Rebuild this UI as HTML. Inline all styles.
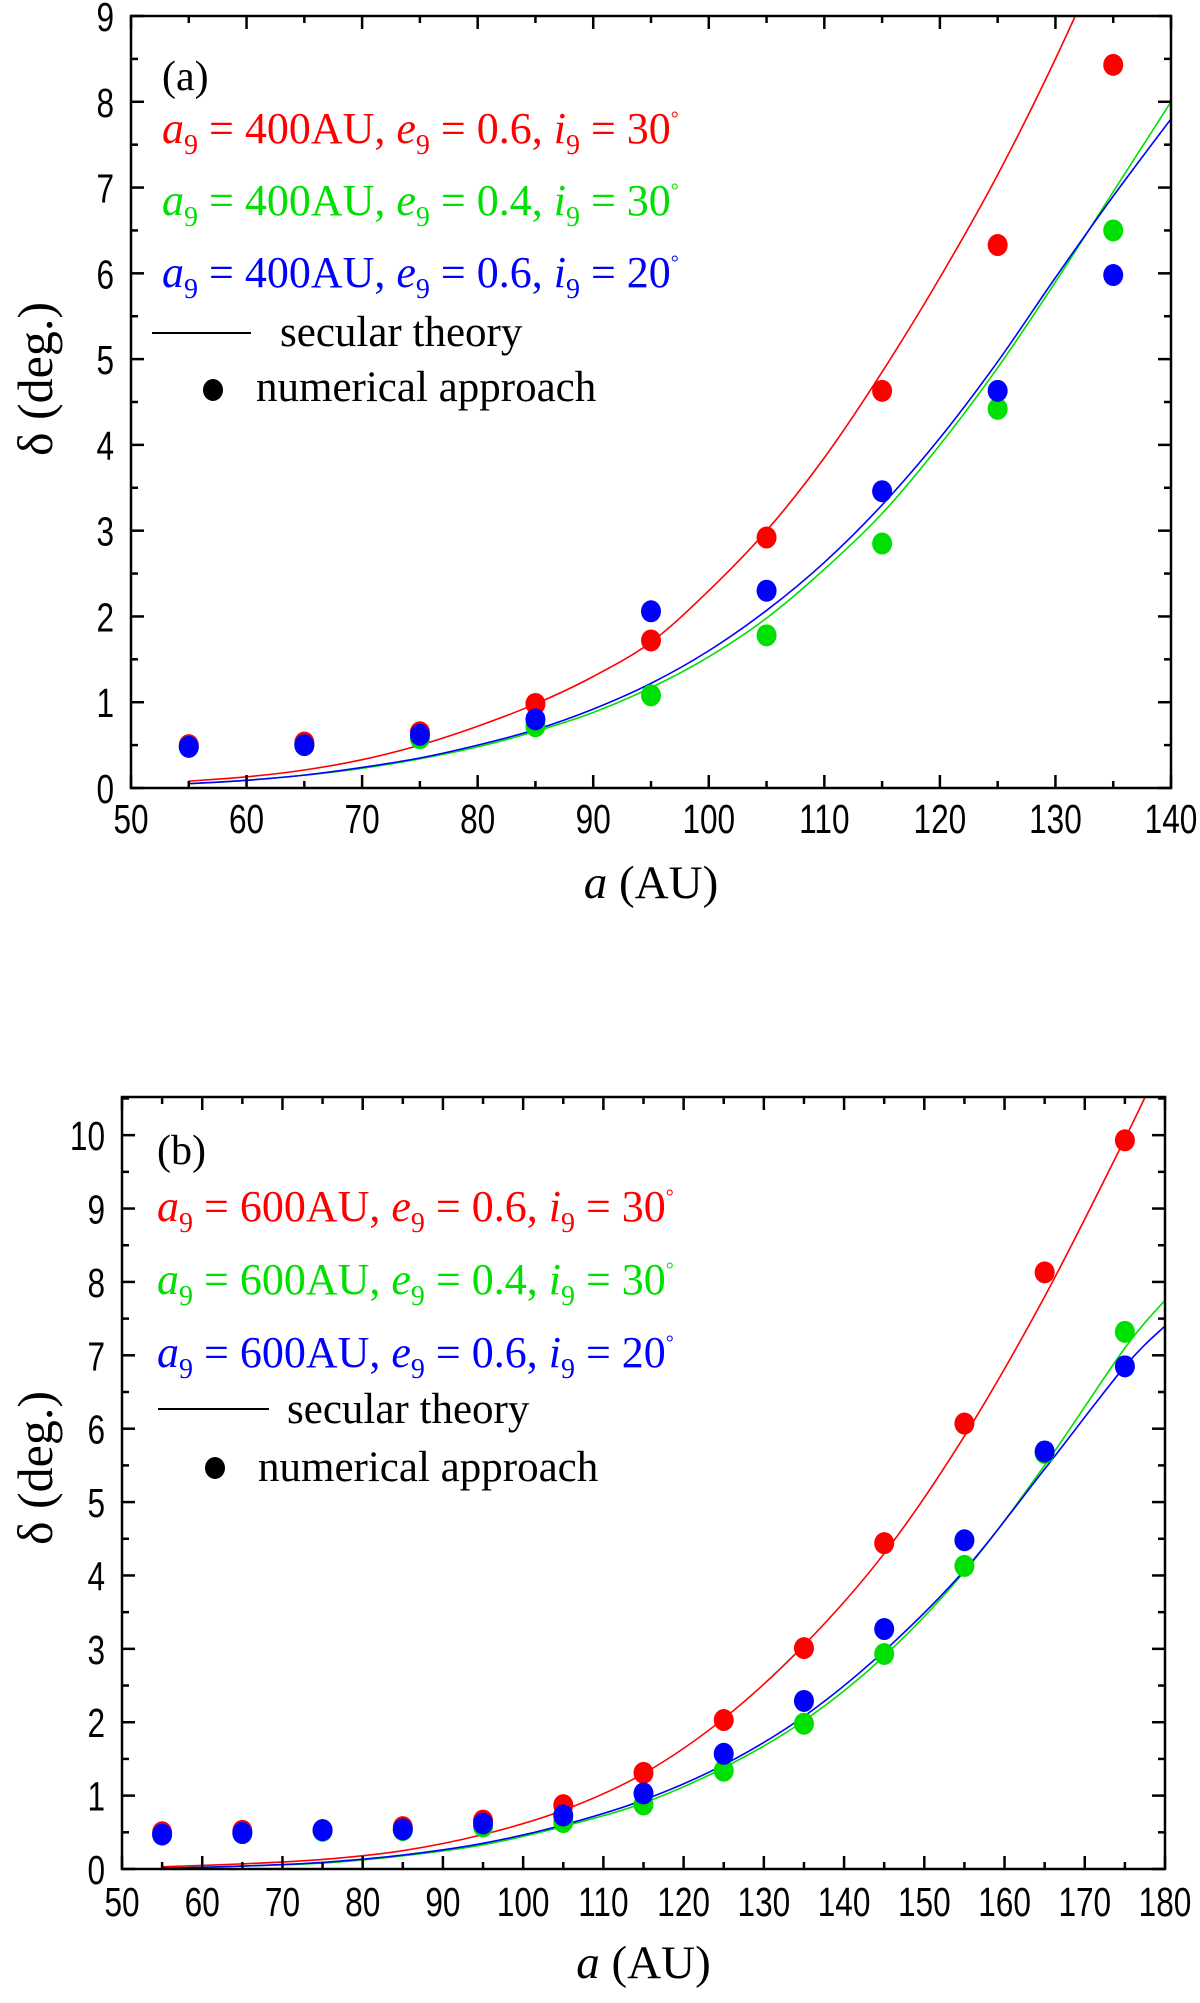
<!DOCTYPE html>
<html><head><meta charset="utf-8"><style>
html,body{margin:0;padding:0;background:#fff;}
svg{display:block;}
text{font-family:"Liberation Sans",Arial,sans-serif;}
.ser{font-family:"Liberation Serif","Times New Roman",serif;}
</style></head><body>
<svg id="fig" width="1200" height="2003" viewBox="0 0 1200 2003" xmlns="http://www.w3.org/2000/svg"></svg>
<script>
// ---------- Panel (a) data ----------
const aX = [55,65,75,85,95,105,115,125,135];
const aRed = [0.50,0.53,0.65,0.98,1.72,2.92,4.63,6.33,8.43];
const aGreen = [0.48,0.50,0.58,0.72,1.08,1.78,2.85,4.42,6.50];
const aBlue = [0.48,0.50,0.62,0.80,2.06,2.30,3.46,4.63,5.98];
const aThX = [55,60,65,70,75,80,85,90,95,100,105,110,115,120,125,130,135,140];
const aThRed = [0.08,0.13,0.21,0.33,0.50,0.72,0.98,1.30,1.70,2.30,3.00,3.85,4.85,5.95,7.15,8.50,10.0,11.6];
const aThGreen = [0.05,0.09,0.15,0.23,0.34,0.48,0.66,0.88,1.17,1.53,1.98,2.55,3.20,4.00,4.90,5.90,6.95,8.00];
const aThBlue = [0.05,0.09,0.15,0.24,0.35,0.50,0.68,0.92,1.22,1.60,2.07,2.63,3.30,4.08,4.97,5.95,6.90,7.80];
const aXTicks = [50,60,70,80,90,100,110,120,130,140];
const aYTicks = [0,1,2,3,4,5,6,7,8,9];
// ---------- Panel (b) data ----------
const bX = [55,65,75,85,95,105,115,125,135,145,155,165,175];
const bRed = [0.50,0.52,0.53,0.57,0.66,0.87,1.31,2.03,3.01,4.44,6.07,8.13,9.93];
const bGreen = [0.47,0.49,0.52,0.53,0.58,0.64,0.88,1.34,1.98,2.93,4.13,5.67,7.32];
const bBlue = [0.47,0.49,0.53,0.54,0.62,0.73,1.03,1.57,2.29,3.27,4.48,5.69,6.85];
const bThX = [55,65,75,85,95,105,115,125,135,145,155,165,175,180];
const bThRed = [0.03,0.07,0.13,0.25,0.47,0.80,1.30,2.05,3.05,4.30,5.90,7.80,9.95,11.1];
const bThGreen = [0.01,0.04,0.08,0.18,0.33,0.58,0.90,1.38,2.02,2.90,4.05,5.50,7.10,7.75];
const bThBlue = [0.01,0.04,0.09,0.19,0.35,0.60,0.94,1.42,2.08,2.97,4.07,5.45,6.85,7.40];
const bXTicks = [50,60,70,80,90,100,110,120,130,140,150,160,170,180];
const bYTicks = [0,1,2,3,4,5,6,7,8,9,10];

const NS="http://www.w3.org/2000/svg";
const svg=document.getElementById('fig');
function mk(tag,attrs,parent){const e=document.createElementNS(NS,tag);for(const k in attrs)e.setAttribute(k,attrs[k]);(parent||svg).appendChild(e);return e;}

function panel(cfg){
  const g=mk('g',{});
  
  
  const {L,R,T,B,x0,x1,y0,y1}=cfg;
  const sx=v=>L+(v-x0)/(x1-x0)*(R-L);
  const sy=v=>B-(v-y0)/(y1-y0)*(B-T);
  const cid='clip'+cfg.id;
  const cp=mk('clipPath',{id:cid},g);mk('rect',{x:L,y:T,width:R-L,height:B-T},cp);
  const cols={red:'#ff0000',green:'#00e000',blue:'#0000ff'};
  cfg.theory.forEach(s=>{
    const pts=cfg.thX.map((x,i)=>[sx(x),sy(s.v[i])]);
    let d='M'+pts[0][0]+','+pts[0][1];
    for(let i=0;i<pts.length-1;i++){
      const p0=pts[Math.max(i-1,0)],p1=pts[i],p2=pts[i+1],p3=pts[Math.min(i+2,pts.length-1)];
      d+=' C'+(p1[0]+(p2[0]-p0[0])/6)+','+(p1[1]+(p2[1]-p0[1])/6)+' '+(p2[0]-(p3[0]-p1[0])/6)+','+(p2[1]-(p3[1]-p1[1])/6)+' '+p2[0]+','+p2[1];
    }
    const p=mk('path',{d:d,fill:'none',stroke:cols[s.c],'stroke-width':1.6,'clip-path':'url(#'+cid+')'},g);
    
    
  });
  cfg.pts.forEach(s=>{
    s.v.forEach((v,i)=>{
      const c=mk('ellipse',{cx:sx(cfg.px[i]),cy:sy(v),rx:10,ry:11,fill:cols[s.c]},g);
      
      
    });
  });
  const fr=mk('rect',{x:L,y:T,width:R-L,height:B-T,fill:'none',stroke:'#000','stroke-width':2.5},g);
  
  
  const xs=cfg.xt;
  for(let i=0;i<xs.length;i++){
    const X=sx(xs[i]);
    mk('line',{x1:X,y1:B,x2:X,y2:B-13,stroke:'#000','stroke-width':2.5},g);
    mk('line',{x1:X,y1:T,x2:X,y2:T+13,stroke:'#000','stroke-width':2.5},g);
    if(i<xs.length-1){const Xm=sx((xs[i]+xs[i+1])/2);
      mk('line',{x1:Xm,y1:B,x2:Xm,y2:B-7,stroke:'#000','stroke-width':2.5},g);
      mk('line',{x1:Xm,y1:T,x2:Xm,y2:T+7,stroke:'#000','stroke-width':2.5},g);}
    const t=mk('text',{x:0,y:0,'font-size':41,'text-anchor':'middle',transform:'translate('+X+','+cfg.xlY+') scale(0.77,1)'},g);
    t.textContent=xs[i];
    
    
  }
  const ys=cfg.yt;
  for(let i=0;i<ys.length;i++){
    const Y=sy(ys[i]);
    mk('line',{x1:L,y1:Y,x2:L+13,y2:Y,stroke:'#000','stroke-width':2.5},g);
    mk('line',{x1:R,y1:Y,x2:R-13,y2:Y,stroke:'#000','stroke-width':2.5},g);
    const ym=ys[i]+0.5; if(ym<y1){const Ym=sy(ym);
      mk('line',{x1:L,y1:Ym,x2:L+7,y2:Ym,stroke:'#000','stroke-width':2.5},g);
      mk('line',{x1:R,y1:Ym,x2:R-7,y2:Ym,stroke:'#000','stroke-width':2.5},g);}
    const t=mk('text',{x:0,y:0,'font-size':41,'text-anchor':'end',transform:'translate('+(L-17)+','+(Y+15)+') scale(0.77,1)'},g);
    t.textContent=ys[i];
    
    
  }
  const xt=mk('text',{x:(L+R)/2,y:cfg.xtY,'font-size':47,'text-anchor':'middle',class:'ser'},g);
  xt.innerHTML='<tspan font-style="italic">a</tspan> (AU)';
  
  
  const yt=mk('text',{x:0,y:0,'font-size':50,'text-anchor':'middle',class:'ser',transform:'translate('+cfg.ytX+','+cfg.ytY+') rotate(-90)'},g);
  yt.textContent='δ (deg.)';
  
  
  const lg=cfg.lg;
  const lab=mk('text',{x:lg.labX,y:lg.labY,'font-size':42,class:'ser'},g);
  lab.textContent=cfg.id==='a'?'(a)':'(b)';
  
  
  const entries=[['red','0.6','30'],['green','0.4','30'],['blue','0.6','20']];
  entries.forEach((e,i)=>{
    const t=mk('text',{x:lg.labX,y:lg.rows[i],'font-size':44,class:'ser',fill:cols[e[0]]},g);
    t.innerHTML='<tspan font-style="italic">a</tspan><tspan font-size="28" dy="11">9</tspan><tspan dy="-11"> = '+cfg.a9+'AU, </tspan><tspan font-style="italic">e</tspan><tspan font-size="28" dy="11">9</tspan><tspan dy="-11"> = '+e[1]+', </tspan><tspan font-style="italic">i</tspan><tspan font-size="28" dy="11">9</tspan><tspan dy="-11"> = '+e[2]+'</tspan><tspan font-size="20" dy="-18">°</tspan>';
    
    
  });
  mk('line',{x1:lg.lx1,y1:lg.lineY,x2:lg.lx2,y2:lg.lineY,stroke:'#000','stroke-width':2},g);
  const st=mk('text',{x:lg.stX,y:lg.stY,'font-size':43,class:'ser'},g);
  st.textContent='secular theory';
  
  
  mk('ellipse',{cx:lg.dX,cy:lg.dY,rx:10,ry:11,fill:'#000'},g);
  const nt=mk('text',{x:lg.nX,y:lg.nY,'font-size':43,class:'ser'},g);
  nt.textContent='numerical approach';
  
  
}

panel({id:'a',L:131,R:1171,T:16,B:788,x0:50,x1:140,y0:0,y1:9,xt:aXTicks,yt:aYTicks,
  thX:aThX,theory:[{c:'red',v:aThRed},{c:'green',v:aThGreen},{c:'blue',v:aThBlue}],
  px:aX,pts:[{c:'red',v:aRed},{c:'green',v:aGreen},{c:'blue',v:aBlue}],
  xlY:833,xtY:898,ytX:52,ytY:379,a9:'400',
  lg:{labX:162,labY:90,rows:[143,215,287],lx1:152,lx2:251,lineY:333,stX:280,stY:346,dX:213,dY:390,nX:256,nY:401}});
panel({id:'b',L:122,R:1165,T:1097,B:1869,x0:50,x1:180,y0:0,y1:10.52,xt:bXTicks,yt:bYTicks,
  thX:bThX,theory:[{c:'red',v:bThRed},{c:'green',v:bThGreen},{c:'blue',v:bThBlue}],
  px:bX,pts:[{c:'red',v:bRed},{c:'green',v:bGreen},{c:'blue',v:bBlue}],
  xlY:1916,xtY:1978,ytX:52,ytY:1468,a9:'600',
  lg:{labX:157,labY:1164,rows:[1221,1294,1367],lx1:158,lx2:269,lineY:1409,stX:287,stY:1423,dX:215,dY:1468,nX:258,nY:1481}});
</script>
</body></html>
